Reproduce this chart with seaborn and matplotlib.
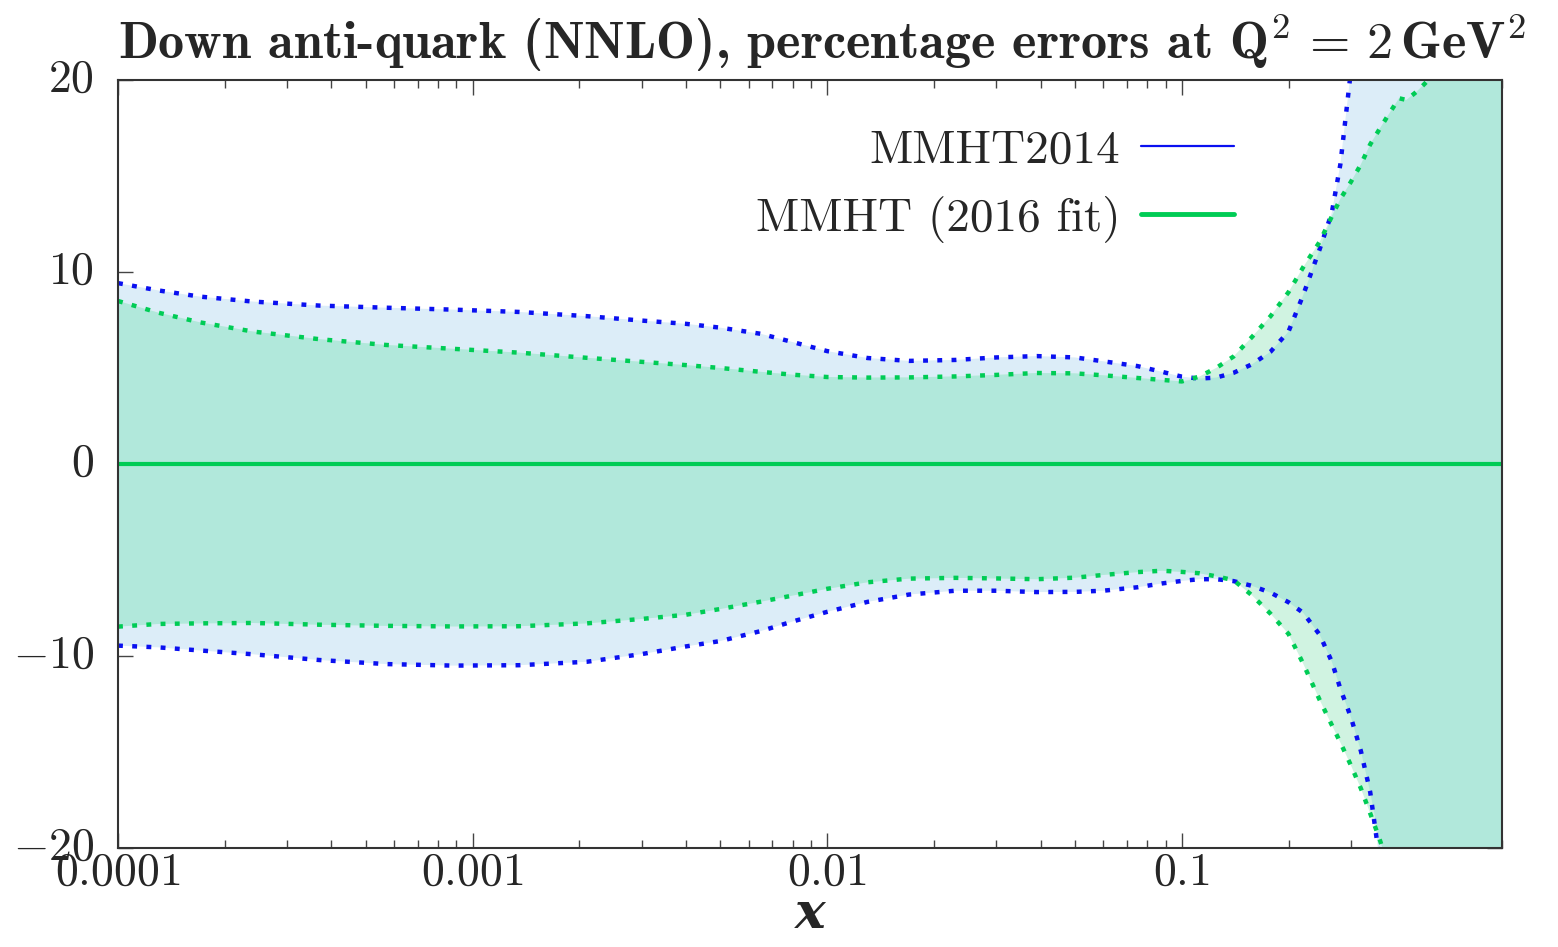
import numpy as np
import pandas as pd
import matplotlib
matplotlib.use("Agg")
import matplotlib.pyplot as plt
from matplotlib.lines import Line2D
from matplotlib.ticker import LogLocator, NullFormatter
from matplotlib.transforms import ScaledTranslation
import seaborn as sns

# ---------------- data ----------------
x_vals = [1.0e-4, 1.3e-4, 1.7e-4, 2.4e-4, 3.7e-4, 5.7e-4, 8.8e-4, 1.35e-3, 2.1e-3,
          3.0e-3, 4.0e-3, 5.0e-3, 6.5e-3, 8.0e-3, 1.0e-2, 1.3e-2, 1.7e-2, 2.3e-2,
          3.0e-2, 3.9e-2, 5.0e-2, 6.0e-2, 7.5e-2, 8.8e-2, 0.1, 0.112, 0.125, 0.14,
          0.158, 0.178, 0.2, 0.22, 0.245, 0.265, 0.28, 0.3, 0.32, 0.34, 0.36, 0.38,
          0.41, 0.43, 0.46, 0.49, 0.55, 0.65, 0.8]

mmht2014_upper = [9.42, 9.04, 8.72, 8.46, 8.25, 8.14, 8.04, 7.92, 7.70,
                  7.47, 7.30, 7.10, 6.78, 6.35, 5.88, 5.52, 5.37, 5.42,
                  5.55, 5.62, 5.55, 5.35, 5.10, 4.80, 4.55, 4.45, 4.50, 4.75,
                  5.20, 5.85, 6.90, 8.80, 11.2, 13.1, 15.6, 20.5, 24.0, 27.0, 30.0, 30.0,
                  30.0, 30.0, 30.0, 30.0, 30.0, 30.0, 30.0]
mmht2014_lower = [-9.46, -9.55, -9.71, -9.91, -10.21, -10.42, -10.50, -10.48, -10.30,
                  -9.90, -9.50, -9.22, -8.70, -8.20, -7.70, -7.18, -6.80, -6.60,
                  -6.60, -6.67, -6.66, -6.60, -6.42, -6.22, -6.09, -6.00, -6.00, -6.10,
                  -6.35, -6.70, -7.20, -7.75, -8.90, -10.3, -11.7, -13.2, -14.95, -17.1, -20.4, -23.0,
                  -27.0, -30.0, -30.0, -30.0, -30.0, -30.0, -30.0]

mmht2016_upper = [8.49, 7.88, 7.38, 6.90, 6.50, 6.20, 6.00, 5.80, 5.53,
                  5.32, 5.15, 5.00, 4.80, 4.65, 4.53, 4.50, 4.51, 4.56,
                  4.64, 4.74, 4.72, 4.62, 4.48, 4.38, 4.30, 4.55, 5.00, 5.60,
                  6.63, 7.70, 8.95, 10.25, 11.58, 12.9, 13.8, 14.7, 15.6, 16.65, 17.4, 18.1,
                  19.05, 18.96, 19.4, 19.9, 22.0, 26.0, 30.0]
mmht2016_lower = [-8.47, -8.33, -8.30, -8.28, -8.37, -8.43, -8.46, -8.45, -8.30,
                  -8.07, -7.85, -7.55, -7.17, -6.85, -6.50, -6.16, -5.97, -5.93,
                  -5.96, -6.00, -5.92, -5.78, -5.63, -5.56, -5.62, -5.69, -5.85, -6.05,
                  -6.85, -7.80, -8.85, -10.4, -12.3, -13.6, -14.5, -15.7, -16.9, -18.2, -19.45, -20.8,
                  -23.0, -25.0, -28.0, -30.0, -30.0, -30.0, -30.0]
central = [0.0] * len(x_vals)

series_labels = ["MMHT2014", "MMHT (2016 fit)"]
x_tick_vals = [1e-4, 1e-3, 1e-2, 1e-1]
x_tick_labels = ["0.0001", "0.001", "0.01", "0.1"]
y_tick_vals = [-20, -10, 0, 10, 20]
title_text = (r"Down anti-quark (NNLO), percentage errors at "
              r"$\mathbf{Q}^{\mathbf{2}}\mathbf{\,=\,2\,GeV}^{\mathbf{2}}$")

# ---------------- style ----------------
sns.set_theme(style="ticks")
plt.rcParams["mathtext.fontset"] = "cm"
plt.rcParams["font.family"] = ["cmr10", "DejaVu Serif"]
plt.rcParams["axes.unicode_minus"] = False

BLUE = "#0a10f0"
GREEN = "#00cc55"
FILL_BLUE = "#dcedf8"
FILL_GREEN = "#d0f3e1"
FILL_BOTH = "#b1e8db"

df = pd.DataFrame({"x": x_vals, "bu": mmht2014_upper, "bl": mmht2014_lower,
                   "gu": mmht2016_upper, "gl": mmht2016_lower, "c": central})
ov_hi = np.minimum(df["bu"], df["gu"])
ov_lo = np.maximum(df["bl"], df["gl"])

fig = plt.figure(figsize=(15.58, 9.47), dpi=100)
ax = fig.add_axes([118 / 1558, 1 - 848 / 947, (1502 - 118) / 1558, (848 - 80) / 947])
ax.set_xscale("log")

ax.fill_between(df["x"], df["bl"], df["bu"], color=FILL_BLUE, lw=0, zorder=1)
ax.fill_between(df["x"], df["gl"], df["gu"], color=FILL_GREEN, lw=0, zorder=1.1)
ax.fill_between(df["x"], ov_lo, ov_hi, where=(ov_hi > ov_lo), color=FILL_BOTH,
                lw=0, zorder=1.2)

dot = (0, (1.1, 2.1))
for col, c in [("bu", BLUE), ("bl", BLUE), ("gu", GREEN), ("gl", GREEN)]:
    sns.lineplot(data=df, x="x", y=col, ax=ax, color=c, lw=3.2, linestyle=dot,
                 estimator=None, sort=False, zorder=3)
sns.lineplot(data=df, x="x", y="c", ax=ax, color=GREEN, lw=3.0,
             estimator=None, sort=False, zorder=4)

ax.set_xlim(1e-4, 0.8)
ax.set_ylim(-20, 20)

ax.set_xticks(x_tick_vals)
ax.set_xticklabels([f"${t}$" for t in x_tick_labels])
ax.xaxis.set_minor_locator(LogLocator(base=10, subs=np.arange(2, 10), numticks=20))
ax.xaxis.set_minor_formatter(NullFormatter())
ax.set_yticks(y_tick_vals)
ax.set_yticklabels([f"${v}$" for v in y_tick_vals])

ax.tick_params(axis="both", which="major", direction="in", length=11, width=1.0,
               color="#444444", top=True, right=True, labelsize=33)
ax.tick_params(axis="x", which="minor", direction="in", length=6, width=1.0,
               color="#444444", top=True, bottom=True)
ax.tick_params(axis="x", which="major", pad=3)
ax.tick_params(axis="y", which="major", pad=17)
shift_up = ScaledTranslation(0, 5 / 100, fig.dpi_scale_trans)
for lab in ax.get_yticklabels():
    lab.set_transform(lab.get_transform() + shift_up)
for s in ax.spines.values():
    s.set_color("#333333")
    s.set_linewidth(1.5)
    s.set_zorder(5)

ax.set_xlabel("x", fontfamily="DejaVu Serif", fontweight="bold", fontstyle="italic",
              fontsize=37, labelpad=-3)
ax.set_ylabel("")
ax.set_title(title_text, loc="left", fontfamily="cmb10", fontsize=37.5, pad=15)

handles = [Line2D([], [], color=BLUE, lw=1.6), Line2D([], [], color=GREEN, lw=3.5)]
ax.legend(handles, series_labels, loc="upper right", bbox_to_anchor=(0.806, 0.935),
          frameon=False, markerfirst=False, handlelength=1.95, handletextpad=0.45,
          labelspacing=0.5, borderaxespad=0, borderpad=0,
          prop={"family": "cmr10", "size": 34})

fig.savefig("out.png", dpi=100)
